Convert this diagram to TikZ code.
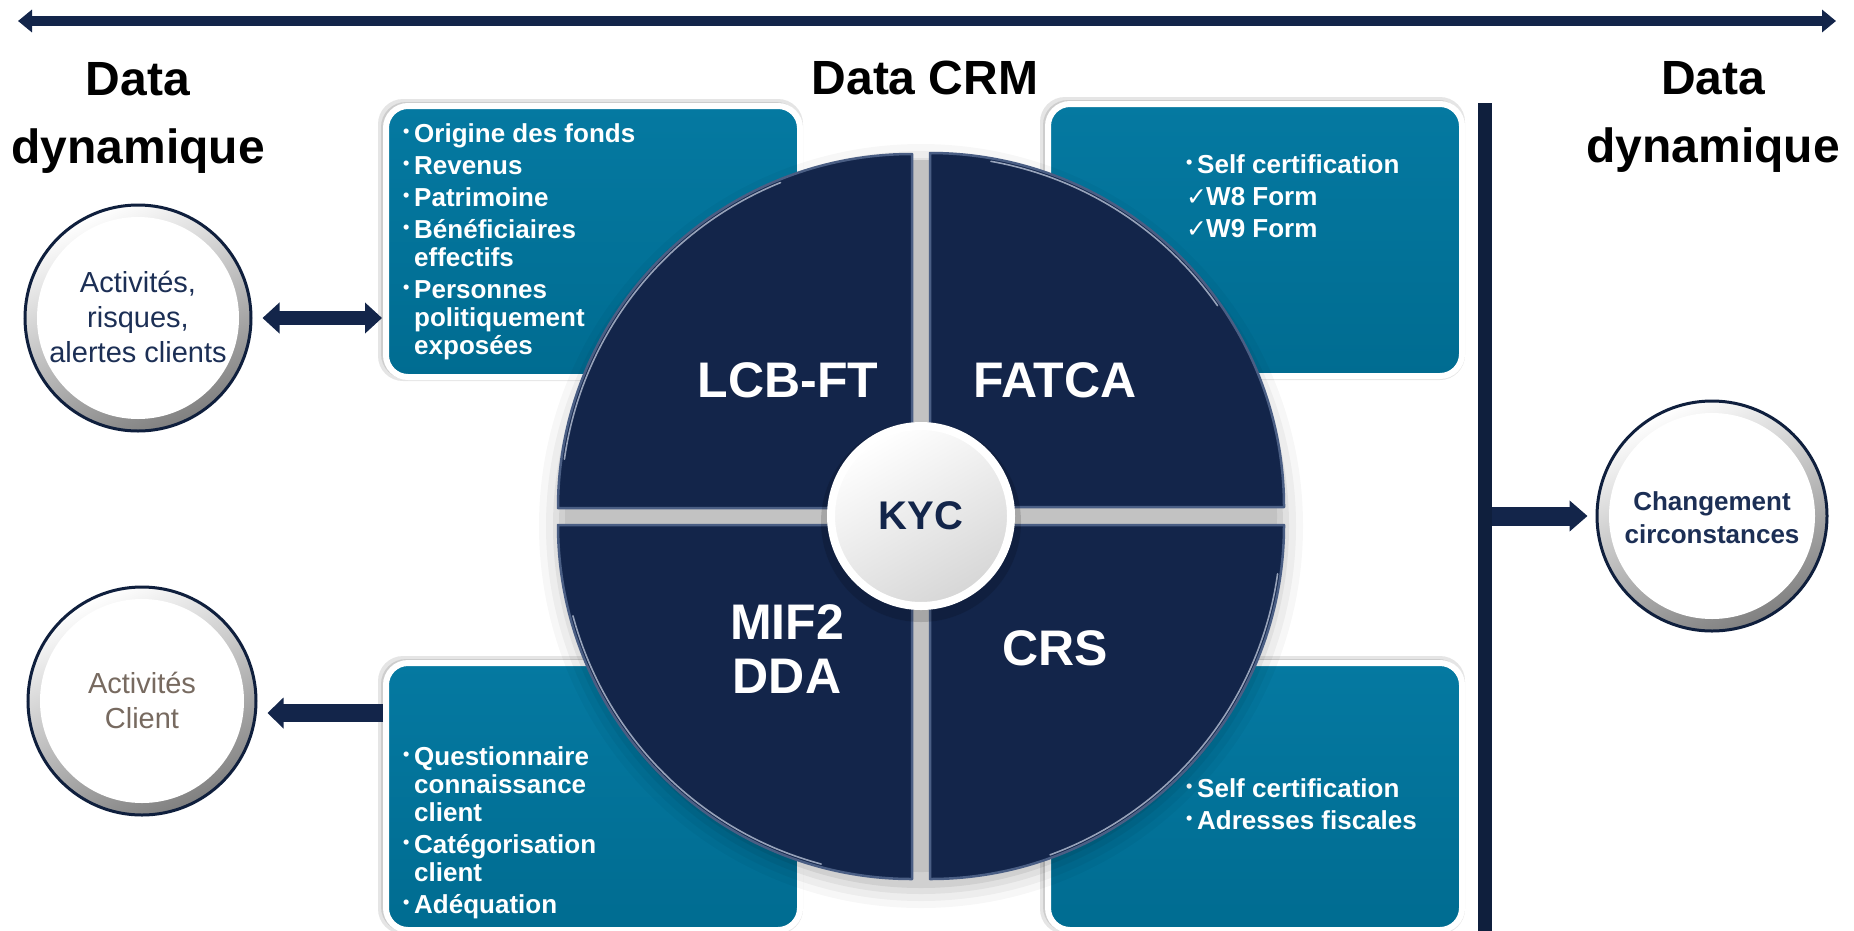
\documentclass[tikz,border=0pt]{standalone}
\usepackage{fontspec}
\setmainfont{Liberation Sans}
\newfontfamily\djv{DejaVu Sans}
\usetikzlibrary{arrows.meta}
\definecolor{navy}{HTML}{13254A}
\definecolor{bardark}{HTML}{0F1F3D}
\definecolor{bevel}{HTML}{4A5E84}
\definecolor{hilite}{HTML}{B8C3D6}
\definecolor{tealtop}{HTML}{0579A1}
\definecolor{tealbot}{HTML}{006C91}
\definecolor{gapgray}{HTML}{C2C2C2}
\definecolor{circtxt}{HTML}{1C2F55}
\definecolor{greytxt}{HTML}{776A60}
\definecolor{ringgray}{HTML}{808080}
\newcommand\kBul{\makebox[11pt][l]{\raisebox{5pt}{\fontsize{18}{18}\selectfont •}}}
\newcommand\kItem[1]{\hbox{\kBul #1}}
\newcommand\kCont[1]{\hbox{\hspace*{11pt}#1}}
\newcommand\kChk[1]{\hbox{\makebox[20pt][l]{\djv\mdseries\fontsize{25}{25}\selectfont ✓}#1}}
\newcommand\kLine[1]{\hbox to 300pt{\hfil #1\hfil}}
\begin{document}
\begin{tikzpicture}[x=1pt,y=1pt,
  infobox/.style={draw=white, line width=6pt, rounded corners=22pt, top color=tealtop, bottom color=tealbot, inner sep=0pt, anchor=north west, minimum width=414pt},
  boxshadow/.style={fill=black, opacity=0.10, rounded corners=25pt},
  listtext/.style={anchor=base west, inner sep=0pt, text=white, font=\bfseries\fontsize{26}{28}\selectfont},
  quad/.style={fill=navy, draw=bevel, line width=2.5pt, line join=round},
  hl/.style={draw=hilite, line width=1.6pt, opacity=0.8, line cap=round},
  qlabel/.style={text=white, font=\bfseries\fontsize{50}{54}\selectfont, align=center, inner sep=0pt},
  title/.style={anchor=base, inner sep=0pt, text=black, font=\bfseries\fontsize{48}{68}\selectfont},
  ring/.style={circle, draw=bardark, line width=3pt, inner sep=0pt, top color=white, bottom color=ringgray, shading angle=25,
    path picture={\fill[white] (path picture bounding box.center) circle (#1);}},
  ctext/.style={anchor=base, inner sep=0pt},
  fat/.style={draw=navy, line width=#1},
  kycnode/.style={circle, minimum size=180pt, inner sep=0pt, draw=white, line width=8pt, top color=white, bottom color=black!16, shading angle=30, font=\bfseries\fontsize{40}{40}\selectfont, text=navy}
]
\useasboundingbox (0,0) rectangle (1854,-930);
\fill[white] (0,0) rectangle (1854,-930);

% top double arrow
\coordinate (ta) at (18,-21);
\coordinate (tb) at (1836,-21);
\draw[fat=10pt, {Triangle[length=14pt,width=22pt]}-{Triangle[length=14pt,width=22pt]}] (ta) -- (tb);

% titles
\node[title] (dl) at (138,-95) {\vtop{\kLine{Data}\kLine{dynamique}}};
\node[title] (dc) at (925,-94) {Data CRM};
\node[title] (dr) at (1713,-94) {\vtop{\kLine{Data}\kLine{dynamique}}};

% boxes (halo + shadow)
\foreach \xa/\ya/\xb/\yb in {383/-103/797/-374, 1045/-101/1459/-373, 383/-660/797/-927, 1045/-660/1459/-927}{
  \fill[boxshadow] (\xa-5,\ya+4) rectangle (\xb+6,\yb-7);
  \fill[boxshadow] (\xa-2,\ya+1) rectangle (\xb+4,\yb-5);
}
\node[infobox, minimum height=271pt] (b1) at (383,-103) {};
\node[infobox, minimum height=272pt] (b2) at (1045,-101) {};
\node[infobox, minimum height=267pt] (b3) at (383,-660) {};
\node[infobox, minimum height=267pt] (b4) at (1045,-660) {};

\node[listtext] (t1) at (403,-142) {\vtop{\kItem{Origine des fonds}\vskip4pt
  \kItem{Revenus}\vskip4pt \kItem{Patrimoine}\vskip4pt
  \kItem{Bénéficiaires}\kCont{effectifs}\vskip4pt
  \kItem{Personnes}\kCont{politiquement}\kCont{exposées}}};
\node[listtext] (t2) at (1186,-173) {\vtop{\kItem{Self certification}\vskip4pt
  \kChk{W8 Form}\vskip4pt \kChk{W9 Form}}};
\node[listtext] (t3) at (403,-765) {\vtop{\kItem{Questionnaire}\kCont{connaissance}\kCont{client}\vskip4pt
  \kItem{Catégorisation}\kCont{client}\vskip4pt \kItem{Adéquation}}};
\node[listtext] (t4) at (1186,-797) {\vtop{\kItem{Self certification}\vskip4pt
  \kItem{Adresses fiscales}}};

% central circle
\foreach \rr/\oo in {382/0.03,375/0.04,368/0.05,362/0.07}
  \fill[black, opacity=\oo] (921,-526) circle (\rr);
\fill[gapgray] (921,-516) circle (356);
\draw[quad] (912,-508) -- (558,-508) arc[start angle=180,end angle=90,radius=354] -- cycle;
\draw[quad] (930,-507) -- (930,-153) arc[start angle=90,end angle=0,radius=354] -- cycle;
\draw[quad] (930,-525) -- (1284,-525) arc[start angle=0,end angle=-90,radius=354] -- cycle;
\draw[quad] (912,-525) -- (912,-879) arc[start angle=270,end angle=180,radius=354] -- cycle;
\draw[hl] (912,-508) ++(172:351) arc[start angle=172,end angle=112,radius=351];
\draw[hl] (930,-507) ++(80:351) arc[start angle=80,end angle=35,radius=351];
\draw[hl] (930,-525) ++(-8:351) arc[start angle=-8,end angle=-70,radius=351];
\draw[hl] (912,-525) ++(255:351) arc[start angle=255,end angle=195,radius=351];

\fill[black, opacity=0.14] (921,-522) circle (100);
\node[kycnode] (kyc) at (921,-516) {KYC};

\node[qlabel] (lcb) at (788,-380) {LCB-FT};
\node[qlabel] (fatca) at (1055,-380) {FATCA};
\node[qlabel] (mif) at (787,-649) {MIF2\\DDA};
\node[qlabel] (crs) at (1055,-648) {CRS};

% left circles
\node[ring=101pt, minimum size=226pt] (act) at (138,-318) {};
\node[ctext, text=circtxt, font=\fontsize{29}{35}\selectfont] (acttxt) at (138,-292)
  {\vtop{\kLine{Activités,}\kLine{risques,}\kLine{alertes clients}}};
\node[ring=102pt, minimum size=228pt] (act2) at (142,-701) {};
\node[ctext, text=greytxt, font=\fontsize{29}{35}\selectfont] (act2txt) at (142,-693)
  {\vtop{\kLine{Activités}\kLine{Client}}};

\draw[fat=14pt, {Triangle[length=17pt,width=30pt]}-{Triangle[length=17pt,width=30pt]}, shorten <=10pt, shorten >=1pt]
  (act.east) -- (act.east -| b1.west);
\coordinate (lvl2) at (0,-713);
\draw[fat=18pt, -{Triangle[length=16pt,width=30pt]}, shorten >=10pt]
  (b3.west |- lvl2) -- (act2.east |- lvl2);

% right side
\node[fill=bardark, minimum width=14pt, minimum height=830pt, inner sep=0pt, outer sep=0pt] (bar) at (1485,-518) {};
\node[ring=103pt, minimum size=230pt] (chg) at (1712,-516) {};
\node[ctext, text=circtxt, font=\bfseries\fontsize{26}{33}\selectfont] (chgtxt) at (1712,-510)
  {\vtop{\kLine{Changement}\kLine{circonstances}}};
\draw[fat=19pt, -{Triangle[length=18pt,width=30pt]}, shorten >=8pt]
  (bar.east |- chg.west) -- (chg.west);
\end{tikzpicture}
\end{document}
